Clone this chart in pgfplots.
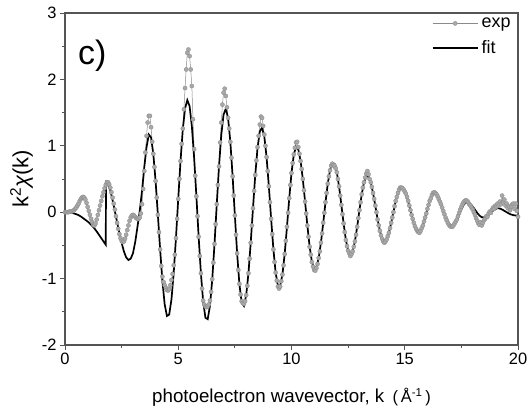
\documentclass[border=0pt]{standalone}
\usepackage{fontspec}
\setmainfont{Liberation Sans}
\usepackage{pgfplots}
\usepackage{pgfplotstable}
\pgfplotsset{compat=1.18}
\definecolor{expfill}{HTML}{A8A8A8}
\definecolor{expedge}{HTML}{8A8A8A}
\definecolor{framegray}{HTML}{555555}
\pgfplotsset{longlegend/.style={legend image code/.code={%
  \draw[mark repeat=2,mark phase=2,##1] plot coordinates {(0cm,0cm) (0.8cm,0cm) (1.6cm,0cm)};}}}

% experimental k^2 chi(k), step 0.05
\pgfplotstableread{
k y
0.00 0.00
0.05 0.00
0.10 0.00
0.15 0.00
0.20 0.01
0.25 0.01
0.30 0.01
0.35 0.02
0.40 0.03
0.45 0.05
0.50 0.07
0.55 0.10
0.60 0.13
0.65 0.17
0.70 0.20
0.75 0.22
0.80 0.23
0.85 0.22
0.90 0.19
0.95 0.14
1.00 0.08
1.05 0.02
1.10 -0.04
1.15 -0.10
1.20 -0.15
1.25 -0.19
1.30 -0.20
1.35 -0.17
1.40 -0.11
1.45 -0.04
1.50 0.03
1.55 0.10
1.60 0.17
1.65 0.24
1.70 0.30
1.75 0.36
1.80 0.41
1.85 0.45
1.90 0.45
1.95 0.42
2.00 0.37
2.05 0.30
2.10 0.22
2.15 0.13
2.20 0.04
2.25 -0.06
2.30 -0.16
2.35 -0.25
2.40 -0.33
2.45 -0.39
2.50 -0.43
2.55 -0.45
2.60 -0.44
2.65 -0.40
2.70 -0.34
2.75 -0.27
2.80 -0.20
2.85 -0.13
2.90 -0.08
2.95 -0.05
3.00 -0.04
3.05 -0.05
3.10 -0.07
3.15 -0.09
3.20 -0.10
3.25 -0.10
3.30 -0.08
3.35 -0.02
3.40 0.12
3.45 0.35
3.50 0.62
3.55 0.90
3.60 1.15
3.65 1.35
3.70 1.45
3.75 1.45
3.80 1.28
3.85 1.06
3.90 0.88
3.95 0.68
4.00 0.47
4.05 0.22
4.10 -0.04
4.15 -0.30
4.20 -0.56
4.25 -0.81
4.30 -0.97
4.35 -1.05
4.40 -1.10
4.45 -1.14
4.50 -1.17
4.55 -1.18
4.60 -1.16
4.65 -1.10
4.70 -1.02
4.75 -0.93
4.80 -0.80
4.85 -0.64
4.90 -0.39
4.95 -0.10
5.00 0.20
5.05 0.50
5.10 0.77
5.15 1.03
5.20 1.26
5.25 1.55
5.30 1.87
5.35 2.15
5.40 2.40
5.45 2.45
5.50 2.35
5.55 2.15
5.60 1.90
5.65 1.40
5.70 0.95
5.75 0.55
5.80 0.24
5.85 -0.06
5.90 -0.37
5.95 -0.66
6.00 -0.92
6.05 -1.15
6.10 -1.33
6.15 -1.39
6.20 -1.42
6.25 -1.43
6.30 -1.42
6.35 -1.39
6.40 -1.33
6.45 -1.20
6.50 -1.01
6.55 -0.76
6.60 -0.48
6.65 -0.18
6.70 0.12
6.75 0.41
6.80 0.69
6.85 1.05
6.90 1.35
6.95 1.62
7.00 1.80
7.05 1.86
7.10 1.75
7.15 1.58
7.20 1.42
7.25 1.26
7.30 1.06
7.35 0.82
7.40 0.54
7.45 0.25
7.50 -0.05
7.55 -0.34
7.60 -0.62
7.65 -0.87
7.70 -1.08
7.75 -1.24
7.80 -1.34
7.85 -1.37
7.90 -1.38
7.95 -1.34
8.00 -1.25
8.05 -1.11
8.10 -0.92
8.15 -0.70
8.20 -0.46
8.25 -0.20
8.30 0.06
8.35 0.32
8.40 0.56
8.45 0.78
8.50 0.98
8.55 1.15
8.60 1.32
8.65 1.44
8.70 1.42
8.75 1.30
8.80 1.17
8.85 1.00
8.90 0.83
8.95 0.62
9.00 0.39
9.05 0.15
9.10 -0.10
9.15 -0.33
9.20 -0.56
9.25 -0.75
9.30 -0.91
9.35 -1.03
9.40 -1.12
9.45 -1.15
9.50 -1.12
9.55 -1.04
9.60 -0.94
9.65 -0.80
9.70 -0.63
9.75 -0.43
9.80 -0.22
9.85 -0.01
9.90 0.21
9.95 0.41
10.00 0.59
10.05 0.74
10.10 0.87
10.15 0.97
10.20 1.05
10.25 1.06
10.30 0.98
10.35 0.88
10.40 0.77
10.45 0.65
10.50 0.50
10.55 0.33
10.60 0.16
10.65 -0.02
10.70 -0.20
10.75 -0.37
10.80 -0.52
10.85 -0.64
10.90 -0.75
10.95 -0.82
11.00 -0.87
11.05 -0.88
11.10 -0.84
11.15 -0.78
11.20 -0.69
11.25 -0.59
11.30 -0.46
11.35 -0.32
11.40 -0.16
11.45 -0.01
11.50 0.15
11.55 0.29
11.60 0.43
11.65 0.54
11.70 0.63
11.75 0.70
11.80 0.73
11.85 0.71
11.90 0.70
11.95 0.66
12.00 0.60
12.05 0.50
12.10 0.39
12.15 0.25
12.20 0.11
12.25 -0.03
12.30 -0.17
12.35 -0.30
12.40 -0.42
12.45 -0.51
12.50 -0.58
12.55 -0.62
12.60 -0.66
12.65 -0.63
12.70 -0.59
12.75 -0.52
12.80 -0.44
12.85 -0.34
12.90 -0.22
12.95 -0.09
13.00 0.03
13.05 0.15
13.10 0.27
13.15 0.37
13.20 0.45
13.25 0.52
13.30 0.58
13.35 0.62
13.40 0.57
13.45 0.50
13.50 0.45
13.55 0.38
13.60 0.29
13.65 0.20
13.70 0.10
13.75 0.00
13.80 -0.11
13.85 -0.20
13.90 -0.28
13.95 -0.35
14.00 -0.40
14.05 -0.44
14.10 -0.46
14.15 -0.44
14.20 -0.41
14.25 -0.36
14.30 -0.31
14.35 -0.24
14.40 -0.16
14.45 -0.08
14.50 0.00
14.55 0.09
14.60 0.17
14.65 0.23
14.70 0.29
14.75 0.34
14.80 0.37
14.85 0.37
14.90 0.36
14.95 0.34
15.00 0.31
15.05 0.28
15.10 0.23
15.15 0.17
15.20 0.10
15.25 0.03
15.30 -0.04
15.35 -0.10
15.40 -0.16
15.45 -0.21
15.50 -0.25
15.55 -0.28
15.60 -0.30
15.65 -0.31
15.70 -0.28
15.75 -0.24
15.80 -0.20
15.85 -0.14
15.90 -0.08
15.95 -0.02
16.00 0.05
16.05 0.11
16.10 0.17
16.15 0.21
16.20 0.26
16.25 0.29
16.30 0.30
16.35 0.29
16.40 0.27
16.45 0.24
16.50 0.20
16.55 0.16
16.60 0.12
16.65 0.07
16.70 0.02
16.75 -0.03
16.80 -0.08
16.85 -0.12
16.90 -0.16
16.95 -0.19
17.00 -0.21
17.05 -0.22
17.10 -0.22
17.15 -0.20
17.20 -0.17
17.25 -0.14
17.30 -0.11
17.35 -0.06
17.40 -0.01
17.45 0.04
17.50 0.08
17.55 0.12
17.60 0.15
17.65 0.17
17.70 0.18
17.75 0.17
17.80 0.15
17.85 0.12
17.90 0.10
17.95 0.07
18.00 0.04
18.05 0.00
18.10 -0.04
18.15 -0.09
18.20 -0.13
18.25 -0.17
18.30 -0.19
18.35 -0.15
18.40 -0.20
18.45 -0.16
18.50 -0.12
18.55 -0.10
18.60 -0.06
18.65 -0.07
18.70 -0.02
18.75 0.01
18.80 -0.01
18.85 0.04
18.90 0.07
18.95 0.05
19.00 0.10
19.05 0.08
19.10 0.13
19.15 0.10
19.20 0.16
19.25 0.12
19.30 0.25
19.35 0.15
19.40 0.19
19.45 0.10
19.50 0.13
19.55 0.06
19.60 0.09
19.65 0.03
19.70 0.08
19.75 0.12
19.80 0.13
19.85 0.05
19.90 0.13
19.95 0.02
20.00 -0.07
}\expdata

% fitted curve
\pgfplotstableread{
k y
0.0 0.000
0.1 0.000
0.2 -0.005
0.3 -0.010
0.4 -0.020
0.5 -0.030
0.6 -0.045
0.7 -0.065
0.8 -0.090
0.9 -0.115
1.0 -0.140
1.1 -0.170
1.2 -0.205
1.3 -0.245
1.4 -0.290
1.5 -0.340
1.6 -0.390
1.7 -0.440
1.8 -0.490
1.81 0.450
1.9 0.420
2.0 0.330
2.1 0.180
2.2 0.020
2.3 -0.150
2.4 -0.310
2.5 -0.460
2.6 -0.590
2.7 -0.680
2.8 -0.720
2.9 -0.700
3.0 -0.620
3.1 -0.450
3.2 -0.220
3.3 0.020
3.4 0.320
3.5 0.680
3.6 0.980
3.7 1.170
3.8 1.125
3.9 0.874
4.0 0.466
4.1 -0.036
4.2 -0.562
4.3 -1.034
4.4 -1.386
4.5 -1.563
4.6 -1.542
4.7 -1.315
4.8 -0.911
4.9 -0.382
5.0 0.204
5.1 0.769
5.2 1.244
5.3 1.562
5.4 1.688
5.5 1.599
5.6 1.298
5.7 0.825
5.8 0.244
5.9 -0.367
6.0 -0.920
6.1 -1.348
6.2 -1.590
6.3 -1.611
6.4 -1.411
6.5 -1.017
6.6 -0.483
6.7 0.115
6.8 0.694
6.9 1.164
7.0 1.469
7.1 1.559
7.2 1.416
7.3 1.058
7.4 0.542
7.5 -0.049
7.6 -0.623
7.7 -1.085
7.8 -1.360
7.9 -1.411
8.0 -1.251
8.1 -0.918
8.2 -0.458
8.3 0.061
8.4 0.560
8.5 0.964
8.6 1.215
8.7 1.276
8.8 1.138
8.9 0.827
9.0 0.391
9.1 -0.097
9.2 -0.556
9.3 -0.911
9.4 -1.105
9.5 -1.108
9.6 -0.937
9.7 -0.625
9.8 -0.222
9.9 0.208
10.0 0.591
10.1 0.865
10.2 0.987
10.3 0.946
10.4 0.774
10.5 0.496
10.6 0.156
10.7 -0.200
10.8 -0.516
10.9 -0.745
11.0 -0.853
11.1 -0.830
11.2 -0.691
11.3 -0.458
11.4 -0.164
11.5 0.145
11.6 0.426
11.7 0.634
11.8 0.740
11.9 0.729
12.0 0.603
12.1 0.386
12.2 0.112
12.3 -0.170
12.4 -0.416
12.5 -0.582
12.6 -0.640
12.7 -0.587
12.8 -0.438
12.9 -0.219
13.0 0.031
13.1 0.267
13.2 0.448
13.3 0.542
13.4 0.535
13.5 0.446
13.6 0.291
13.7 0.096
13.8 -0.105
13.9 -0.280
14.0 -0.398
14.1 -0.440
14.2 -0.405
14.3 -0.308
14.4 -0.163
14.5 0.004
14.6 0.165
14.7 0.293
14.8 0.367
14.9 0.375
15.0 0.326
15.1 0.228
15.2 0.100
15.3 -0.037
15.4 -0.161
15.5 -0.250
15.6 -0.289
15.7 -0.271
15.8 -0.197
15.9 -0.083
16.0 0.047
16.1 0.167
16.2 0.250
16.3 0.280
16.4 0.260
16.5 0.205
16.6 0.122
16.7 0.025
16.8 -0.070
16.9 -0.145
17.0 -0.190
17.1 -0.200
17.2 -0.175
17.3 -0.120
17.4 -0.038
17.5 0.045
17.6 0.111
17.7 0.147
17.8 0.146
17.9 0.124
18.0 0.086
18.1 0.038
18.2 -0.011
18.3 -0.051
18.4 -0.075
18.5 -0.079
18.6 -0.067
18.7 -0.041
18.8 -0.008
18.9 0.025
19.0 0.048
19.1 0.060
19.2 0.055
19.3 0.040
19.4 0.020
19.5 0.000
19.6 -0.020
19.7 -0.035
19.8 -0.045
19.9 -0.050
20.0 -0.050
}\fitdata

\begin{document}
\begin{tikzpicture}
\begin{axis}[
  scale only axis, width=453bp, height=332bp,
  xmin=0, xmax=20, ymin=-2, ymax=3,
  xtick={0,5,10,15,20}, ytick={-2,-1,0,1,2,3},
  minor x tick num=1, minor y tick num=1,
  tick pos=left, tick align=outside,
  major tick length=5bp, minor tick length=3bp,
  every tick/.style={framegray, line width=0.8bp},
  axis line style={framegray, line width=1.1bp},
  /pgf/number format/assume math mode=true,
  ticklabel style={font=\fontsize{16.5}{18}\selectfont},
  xlabel={photoelectron wavevector, k\, {\fontsize{16.5}{18}\selectfont(\,Å\textsuperscript{-1}\,)}},
  ylabel={k\textsuperscript{2}\textit{χ}(k)},
  xlabel style={font=\fontsize{18.8}{21}\selectfont, yshift=-16bp},
  ylabel style={font=\fontsize{22}{25}\selectfont, yshift=2bp},
  legend style={draw=none, fill=none, at={(0.993,0.995)}, anchor=north east,
    font=\fontsize{18}{20}\selectfont, row sep=8bp, inner sep=1bp,
    nodes={inner xsep=3bp}},
  legend cell align=left,
]
\coordinate (ll) at (rel axis cs:0,0);
\coordinate (ur) at (rel axis cs:1,1);
\addplot[color=expedge, line width=0.5bp, mark=*, mark size=2.1bp,
  mark options={fill=expfill, draw=expedge, line width=0.3bp}, longlegend]
  table[x=k,y=y] {\expdata};
\addlegendentry{exp}
\addplot[black, line width=1.7bp, no marks, longlegend]
  table[x=k,y=y] {\fitdata};
\addlegendentry{fit}
\node[font=\fontsize{34}{38}\selectfont] at (axis cs:1.2,2.35) {c)};
\end{axis}
\pgfresetboundingbox
\path ([shift={(-65bp,-71bp)}]ll) rectangle ([shift={(12bp,13bp)}]ur);
\end{tikzpicture}
\end{document}
